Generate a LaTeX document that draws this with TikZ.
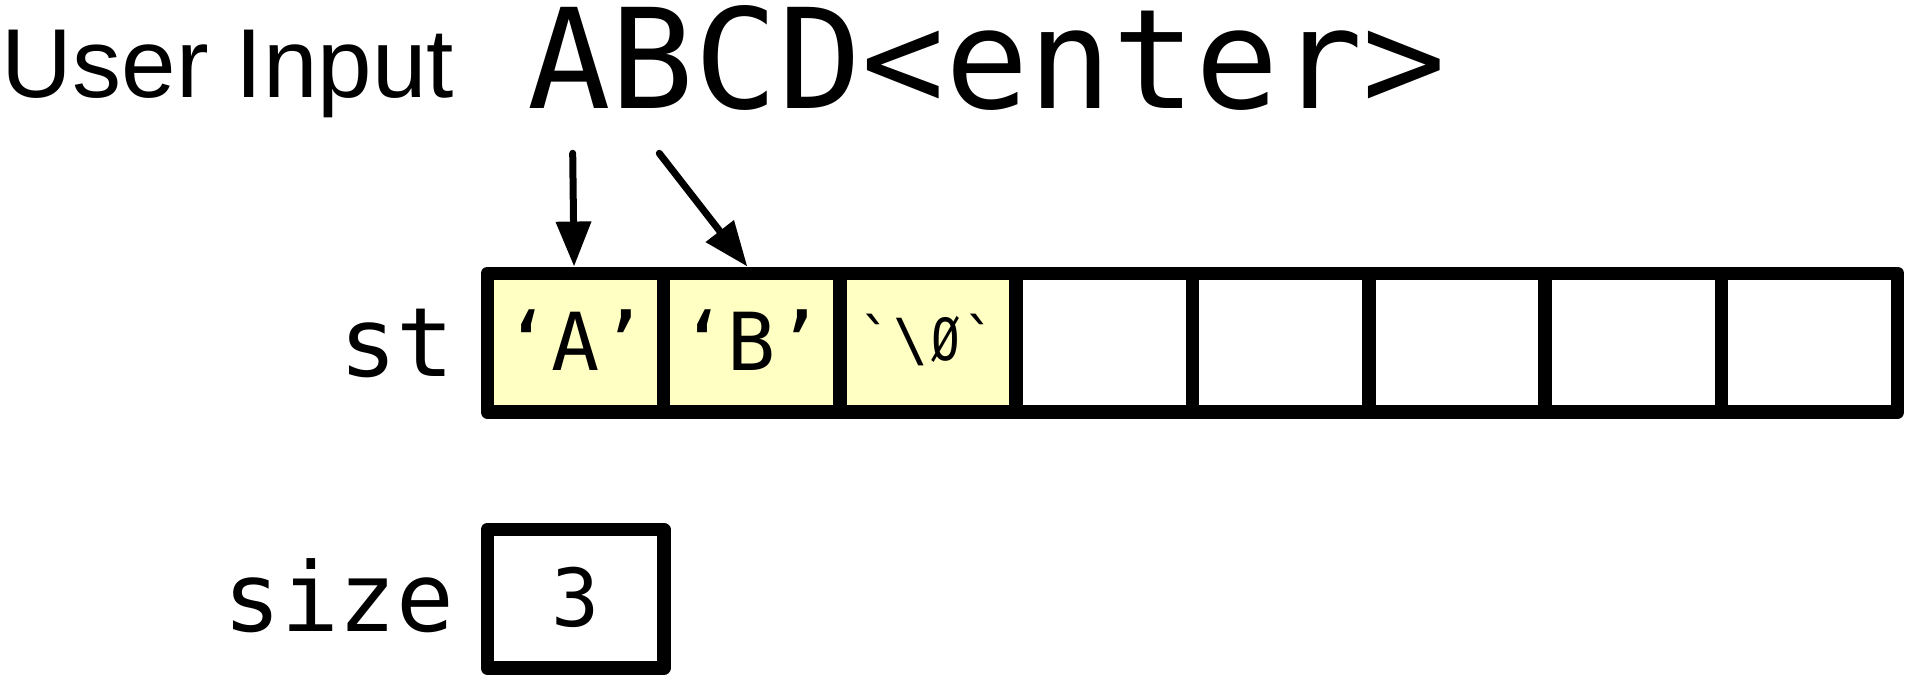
\documentclass[tikz,border=0pt]{standalone}
\usepackage{fontspec}
\setmainfont{Liberation Sans}
\setmonofont{DejaVu Sans Mono}
\newfontfamily\slimmono[FakeStretch=0.82]{DejaVu Sans Mono}
\usetikzlibrary{arrows.meta}
\definecolor{cellyellow}{RGB}{255,255,196}
\begin{document}
\begin{tikzpicture}[x=0.5pt,y=-0.5pt,
  box/.style={draw=black, line width=6.75pt, line join=round,
    minimum width=88.15pt, minimum height=69.35pt, inner sep=0pt,
    font=\ttfamily\fontsize{40pt}{40pt}\selectfont, text height=28pt, text depth=0pt},
  filled/.style={box, fill=cellyellow},
  empty/.style={box, fill=white},
  lbl/.style={inner sep=0pt, font=\ttfamily\fontsize{48pt}{49pt}\selectfont, anchor=base east},
  pointer/.style={line width=3.5pt, line cap=round, -{Triangle[width=17pt,length=22.5pt]}}]
  \fill[white] (0,0) rectangle (1913,677);
  \useasboundingbox (0,0) rectangle (1913,677);

  % header texts
  \node[anchor=base west, inner sep=0pt, font=\fontsize{49pt}{50pt}\selectfont] (ui) at (1.5,97) {User Input};
  \node[anchor=base west, inner sep=0pt, font=\ttfamily\fontsize{69.4pt}{70pt}\selectfont] (inp) at (527,108.7) {ABCD<enter>};

  % array st
  \node[filled] (c1) at (575.45,342.65) {‘A’};
  \node[filled] (c2) at (751.75,342.65) {‘B’};
  \node[filled, font=\ttfamily\fontsize{29pt}{29pt}\selectfont, text height=17.5pt] (c3) at (928.05,342.65) {`\textbackslash\makebox[0.602em]{\slimmono Ø}`};
  \node[empty] (c4) at (1104.35,342.65) {};
  \node[empty] (c5) at (1280.65,342.65) {};
  \node[empty] (c6) at (1456.95,342.65) {};
  \node[empty] (c7) at (1633.25,342.65) {};
  \node[empty] (c8) at (1809.55,342.65) {};
  \node[lbl] (st) at (455,376.7) {st};

  % size
  \node[empty, text height=27.2pt] (sz) at (575.6,598.85) {3};
  \node[lbl] (szl) at (455,631.7) {size};

  % arrows
  \coordinate (s1) at (572.7,153.3);
  \coordinate (s2) at (659.3,153.3);
  \draw[pointer] (s1) -- ([xshift=-0.7pt]c1.north);
  \draw[pointer] (s2) -- ([xshift=-2.2pt]c2.north);
\end{tikzpicture}
\end{document}
